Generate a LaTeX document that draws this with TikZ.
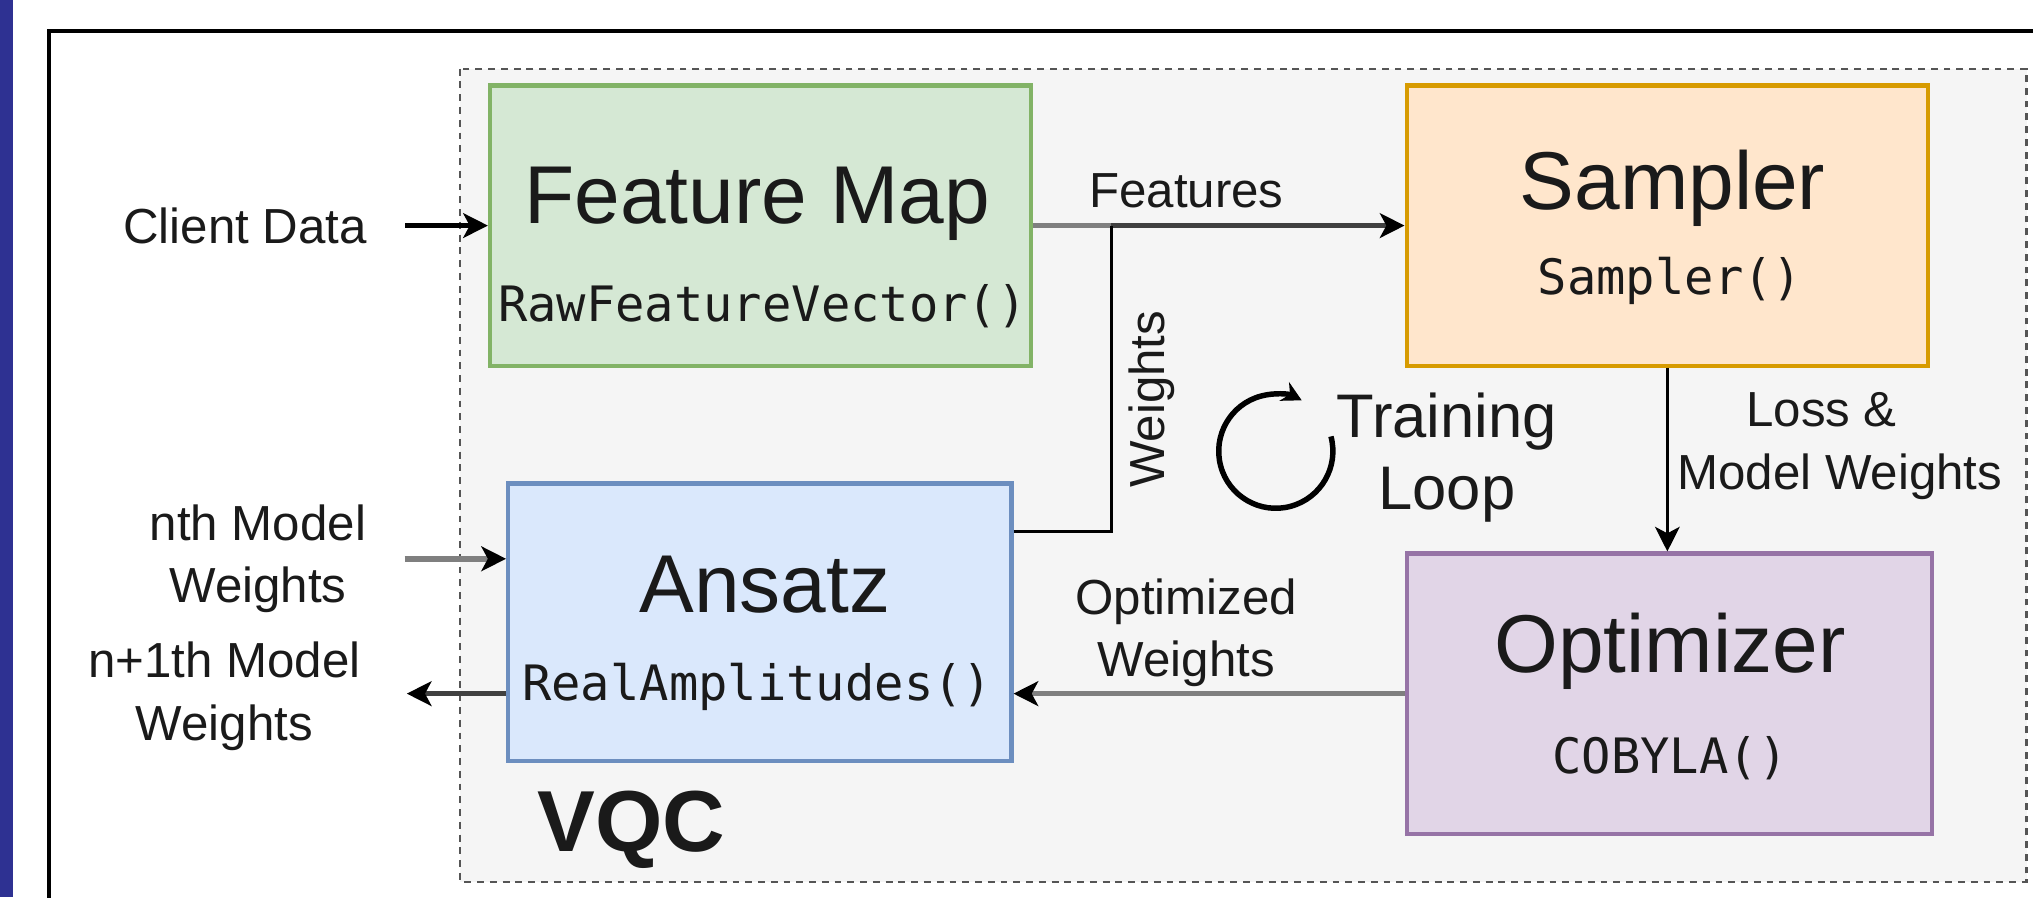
\documentclass[tikz,border=0pt]{standalone}
\usepackage{fontspec}
\setmainfont{Liberation Sans}
\setmonofont{DejaVu Sans Mono}
\usetikzlibrary{arrows.meta}
\definecolor{barblue}{HTML}{2E3192}
\definecolor{vqcfill}{HTML}{F5F5F5}
\definecolor{vqcdraw}{HTML}{555555}
\definecolor{fmfill}{HTML}{D5E8D4}\definecolor{fmdraw}{HTML}{82B366}
\definecolor{spfill}{HTML}{FFE6CC}\definecolor{spdraw}{HTML}{D79B00}
\definecolor{anfill}{HTML}{DAE8FC}\definecolor{andraw}{HTML}{6C8EBF}
\definecolor{opfill}{HTML}{E1D5E7}\definecolor{opdraw}{HTML}{9673A6}
\definecolor{txt}{HTML}{1A1A1A}
\definecolor{midgray}{HTML}{7F7F7F}
\definecolor{darkline}{HTML}{404040}
\tikzset{
 box/.style={draw, line width=0.9pt, minimum height=2.16cm, inner sep=0pt},
 title/.style={font=\fontsize{18}{21}\selectfont, text=txt, inner sep=0pt},
 code/.style={font=\ttfamily\fontsize{10.7}{13}\selectfont, text=txt, inner sep=0pt},
 lbl/.style={font=\fontsize{10.8}{13.7}\selectfont, text=txt, align=center, inner sep=0pt},
 head/.style={-{Stealth[length=0.19cm, width=0.19cm, inset=0.05cm, color=black]}},
 thickline/.style={line width=1.2pt},
 thinline/.style={line width=0.6pt, black},
}
\begin{document}
\begin{tikzpicture}[x=0.01cm,y=-0.01cm]
\useasboundingbox (0,0) rectangle (1568,692);
\clip (0,0) rectangle (1568,692);
\fill[barblue] (0,0) rectangle (10,692);
\draw[line width=0.9pt] (38,24) rectangle (1620,740);
\draw[vqcdraw, fill=vqcfill, line width=0.45pt, dash pattern=on 1.5pt off 1.3pt] (355,53) rectangle (1563,680);

\node[box, fill=fmfill, draw=fmdraw, minimum width=4.17cm] (fm) at (586.5,174) {};
\node[box, fill=spfill, draw=spdraw, minimum width=4.02cm] (sp) at (1286,174) {};
\node[box, fill=anfill, draw=andraw, minimum width=3.88cm, minimum height=2.14cm] (an) at (586,480) {};
\node[box, fill=opfill, draw=opdraw, minimum width=4.05cm] (op) at (1287.5,535) {};

\node[title] (fmt) at (584,157) {Feature Map};
\node[code] (fmc) at (588,236) {RawFeatureVector()};
\node[title] (spt) at (1290,145) {Sampler};
\node[code] (spc) at (1288,217) {Sampler()};
\node[title] (ant) at (590,451) {Ansatz};
\node[code] (anc) at (584,530) {RealAmplitudes()};
\node[title] (opt) at (1288,502) {Optimizer};
\node[code] (opc) at (1288,585) {COBYLA()};

\node[lbl] (cd) at (189,174) {Client Data};
\node[lbl] (nth) at (199,431) {nth Model\\Weights};
\node[lbl] (n1) at (173,537) {n+1th Model\\Weights};
\node[lbl] (feat) at (915,147) {Features};
\node[lbl, rotate=90] (wl) at (888,308) {Weights};
\node[lbl, font=\fontsize{13.5}{15.9}\selectfont] (tl) at (1116,353) {Training\\Loop};
\node[lbl] (lm) at (1419,344) {Loss \&\kern8pt\\Model Weights};
\node[lbl] (ow) at (915,488) {Optimized\\Weights};
\node[font=\bfseries\fontsize{19}{22}\selectfont, text=txt, inner sep=0pt] (vqc) at (487,640) {VQC};

\coordinate (jn) at (857,174);
\coordinate (wy) at (0,410);
\coordinate (lc) at (984,348);

\draw[thickline, black, head, shorten <=0.29cm] (cd.east) -- (fm.west);
\draw[thickline, midgray, head, shorten <=0.29cm] (nth.east) -- (an.west |- nth.east);
\draw[thickline, darkline, head, shorten >=0.35cm] (an.west |- op.west) -- (n1.east |- op.west);
\draw[thickline, midgray] (fm.east) -- (jn);
\draw[thickline, darkline, head] (jn) -- (sp.west);
\draw[thinline] (an.east |- wy) -| (jn);
\draw[thinline, head] (sp.south) -- (sp.south |- op.north);
\draw[thickline, midgray, head] (op.west) -- (an.east |- op.west);
\draw[line width=1.2pt, -{Stealth[length=0.15cm,width=0.16cm]}] (lc) ++(15:0.44cm) arc[start angle=15, end angle=-297, radius=0.44cm];
\end{tikzpicture}
\end{document}
